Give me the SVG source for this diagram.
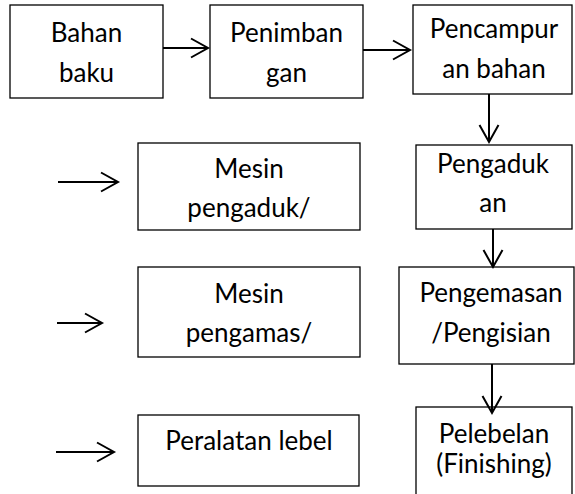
<svg xmlns="http://www.w3.org/2000/svg" width="575" height="494" viewBox="0 0 575 494">
<style>
.box{fill:#fff;stroke:#000;stroke-width:1.3}
.t{font-family:Lato,"Open Sans",sans-serif;font-size:26px;fill:#000;text-anchor:middle}
.c{stroke:#000;stroke-width:2;fill:none}
</style>
<defs>
<marker id="ah" markerUnits="userSpaceOnUse" markerWidth="22" markerHeight="24" refX="19" refY="12" orient="auto" viewBox="0 0 22 24">
<path d="M2,2.5 L19,12 L2,21.5" fill="none" stroke="#000" stroke-width="2"/>
</marker>
</defs>
<rect width="575" height="494" fill="#fff"/>
<g id="bahan-baku"><rect class="box" x="10" y="5" width="153" height="93"/><text class="t" x="86.5" y="42">Bahan</text><text class="t" x="86.5" y="82">baku</text></g>
<g id="penimbangan"><rect class="box" x="210" y="5" width="153" height="93"/><text class="t" x="286.5" y="42">Penimban</text><text class="t" x="286.5" y="82">gan</text></g>
<g id="pencampuran"><rect class="box" x="413" y="5" width="159" height="89"/><text class="t" x="494" y="38">Pencampur</text><text class="t" x="494" y="78">an bahan</text></g>
<g id="pengadukan"><rect class="box" x="416" y="145" width="156" height="84"/><text class="t" x="493" y="173">Pengaduk</text><text class="t" x="493" y="212">an</text></g>
<g id="pengemasan"><rect class="box" x="399" y="267" width="175" height="97"/><text class="t" x="491" y="302">Pengemasan</text><text class="t" x="491" y="342">/Pengisian</text></g>
<g id="pelebelan"><rect class="box" x="416" y="407" width="156" height="100"/><text class="t" x="494" y="443">Pelebelan</text><text class="t" x="494" y="473">(Finishing)</text></g>
<g id="mesin-pengaduk"><rect class="box" x="138" y="143" width="222" height="87"/><text class="t" x="249" y="178">Mesin</text><text class="t" x="249" y="217">pengaduk/</text></g>
<g id="mesin-pengamas"><rect class="box" x="138" y="267" width="222" height="90"/><text class="t" x="249" y="303">Mesin</text><text class="t" x="249" y="342">pengamas/</text></g>
<g id="peralatan-lebel"><rect class="box" x="138" y="415" width="221" height="71"/><text class="t" x="249" y="450">Peralatan lebel</text></g>
<g id="connectors">
<line class="c" x1="163" y1="48" x2="208" y2="48" marker-end="url(#ah)"/>
<line class="c" x1="363" y1="50" x2="410" y2="50" marker-end="url(#ah)"/>
<line class="c" x1="489" y1="94" x2="489" y2="142" marker-end="url(#ah)"/>
<line class="c" x1="493" y1="229" x2="493" y2="267" marker-end="url(#ah)"/>
<line class="c" x1="492" y1="364" x2="492" y2="413" marker-end="url(#ah)"/>
<line class="c" x1="58" y1="182" x2="118" y2="182" marker-end="url(#ah)"/>
<line class="c" x1="57" y1="323" x2="102" y2="323" marker-end="url(#ah)"/>
<line class="c" x1="56" y1="452" x2="114" y2="452" marker-end="url(#ah)"/>
</g>
</svg>
